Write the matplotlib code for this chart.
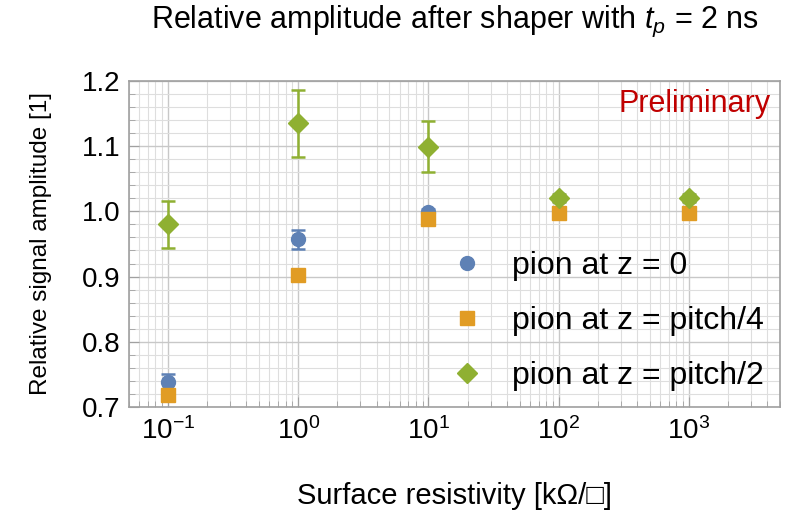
import matplotlib
matplotlib.use("Agg")
import matplotlib.pyplot as plt
import numpy as np
from matplotlib.ticker import LogLocator, MultipleLocator, FormatStrFormatter

plt.rcParams['font.family'] = ['Liberation Sans', 'DejaVu Sans']
plt.rcParams['mathtext.fontset'] = 'custom'
plt.rcParams['mathtext.it'] = 'Liberation Sans:italic'
plt.rcParams['mathtext.rm'] = 'Liberation Sans'

resistivity = [0.1, 1, 10, 100, 1000]

amp_z0 = [0.738, 0.957, 0.999, 1.02, 1.02]
err_z0 = [0.012, 0.015, 0.004, 0.004, 0.004]

amp_q = [0.719, 0.903, 0.989, 0.998, 0.998]
err_q = [0.004, 0.004, 0.004, 0.004, 0.004]

amp_h = [0.980, 1.135, 1.099, 1.021, 1.021]
err_h = [0.036, 0.051, 0.039, 0.006, 0.006]

labels = ["pion at z = 0", "pion at z = pitch/4", "pion at z = pitch/2"]
colors = ["#5E81B5", "#E19C24", "#8FB032"]

fig = plt.figure(figsize=(8, 5.12), dpi=100)
ax = fig.add_axes([0.161, 0.205, 0.814, 0.637])

series = [(amp_z0, err_z0, "o", 10), (amp_q, err_q, "s", 9.5), (amp_h, err_h, "D", 10)]
for (vals, errs, m, ms), lab, c in zip(series, labels, colors):
    ax.errorbar(resistivity, vals, yerr=errs, fmt=m, color=c, ms=ms,
                capsize=5, elinewidth=1.8, capthick=1.8, label=lab, zorder=3)

ax.set_xscale("log")
ax.set_xlim(0.05, 5000)
ax.set_ylim(0.7, 1.2)

ax.yaxis.set_major_locator(MultipleLocator(0.1))
ax.yaxis.set_minor_locator(MultipleLocator(0.02))
ax.xaxis.set_major_locator(LogLocator(base=10, numticks=10))
ax.xaxis.set_minor_locator(LogLocator(base=10, subs=np.arange(2, 10), numticks=20))
ax.yaxis.set_major_formatter(FormatStrFormatter("%.1f"))

ax.grid(which="major", color="#c8c8c8", lw=1.0, zorder=0)
ax.grid(which="minor", color="#dedede", lw=0.8, zorder=0)
ax.set_axisbelow(True)

for s in ax.spines.values():
    s.set_color("#a0a0a0")
    s.set_linewidth(1.2)

ax.tick_params(which="both", direction="in", colors="#a0a0a0", labelcolor="black",
               labelsize=20, top=False, right=False)
ax.tick_params(which="major", length=7)
ax.tick_params(which="minor", length=4)
ax.tick_params(axis="x", pad=7)
ax.tick_params(axis="y", pad=6)

ax.set_xlabel("Surface resistivity [kΩ/□]", fontsize=21)
ax.xaxis.set_label_coords(0.5, -0.23)
ax.set_ylabel("Relative signal amplitude [1]", fontsize=17.5)
ax.yaxis.set_label_coords(-0.118, 0.5)

fig.text(0.569, 1 - 21 / 512, "Relative amplitude after shaper with $t_p$ = 2 ns",
         ha="center", va="center", fontsize=22)

ax.text(0.985, 0.93, "Preliminary", transform=ax.transAxes, ha="right", va="center",
        color="#C00000", fontsize=22)

handles, labs = ax.get_legend_handles_labels()
handles = [h[0] for h in handles]
leg = ax.legend(handles, labs, loc="lower right", frameon=False, fontsize=23,
                handletextpad=0.75, labelspacing=0.78, borderaxespad=0.2,
                handlelength=1.3, borderpad=0.3)

fig.savefig("out.png", dpi=100)
